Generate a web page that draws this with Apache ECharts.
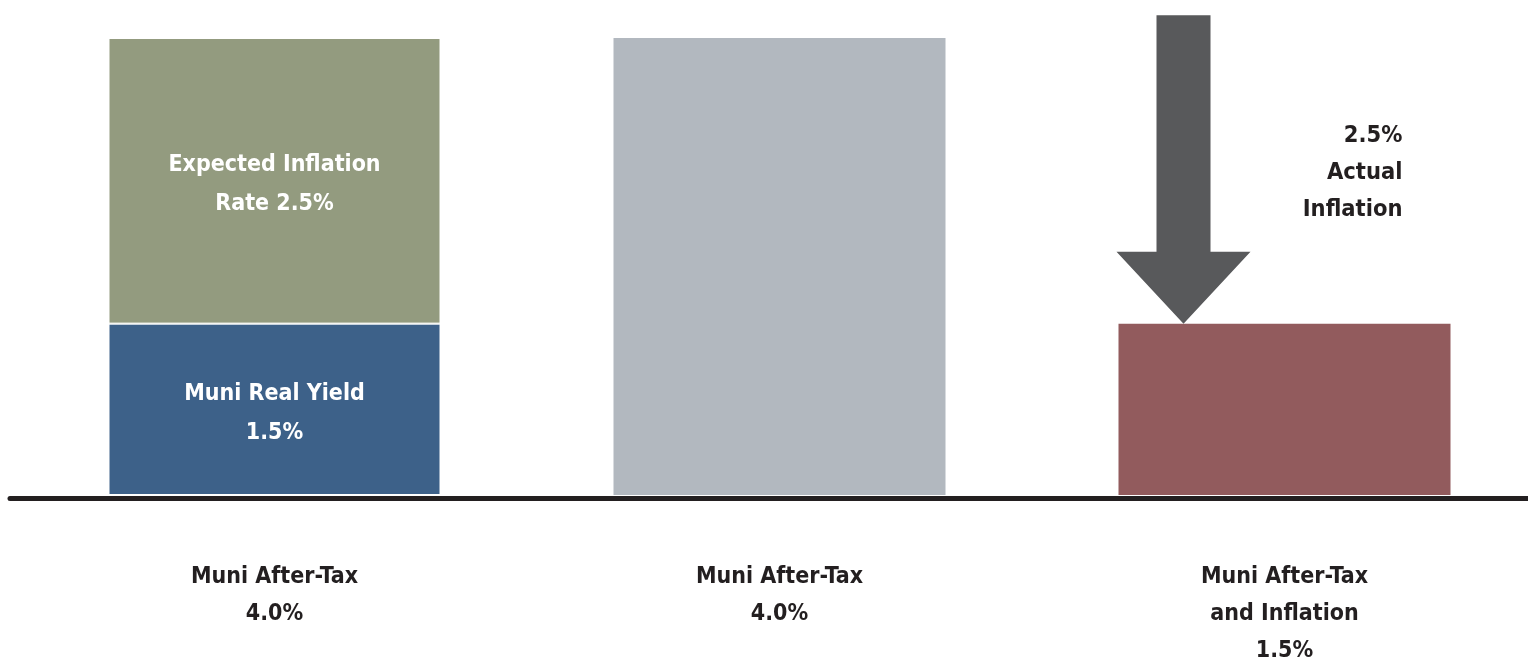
<!DOCTYPE html>
<html>
<head>
<meta charset="utf-8">
<script src="https://cdn.jsdelivr.net/npm/echarts@6/dist/echarts.min.js"></script>
<style>html,body{margin:0;padding:0;background:#fff}#c{width:1528px;height:664px}</style>
</head>
<body>
<div id="c"></div>
<script>
const categories = ['Muni After-Tax\n4.0%', 'Muni After-Tax\n4.0%', 'Muni After-Tax\nand Inflation\n1.5%'];
const realYield = [1.5, null, null];
const expectedInflation = [2.5, null, null];
const afterTax = [null, 4.0, null];
const afterTaxInflation = [null, null, 1.5];
// arrow: [category index, from value, to value]
const inflationArrow = [[2, 4.2, 1.5]];
const arrowLabel = '2.5%\nActual\nInflation';
const realYieldLabel = 'Muni Real Yield\n1.5%';
const expectedLabel = 'Expected Inflation\nRate 2.5%';

const FONT = "'DejaVu Sans Condensed', 'DejaVu Sans', sans-serif";
const chart = echarts.init(document.getElementById('c'));
const inLabel = (txt) => ({
  show: true, position: 'inside', formatter: txt, color: '#ffffff', offset: [0, 4],
  fontFamily: FONT, fontWeight: 'bold', fontSize: 23, lineHeight: 39
});
chart.setOption({
  animation: false,
  grid: [
    {left: 22, width: 1515, top: 38, bottom: 169, outerBoundsMode: 'none', containLabel: false},
    {left: 10, right: 0, top: 38, bottom: 165.5, outerBoundsMode: 'none', containLabel: false}
  ],
  xAxis: [
    {type: 'category', gridIndex: 0, data: categories,
     axisLine: {show: false}, axisTick: {show: false},
     axisLabel: {color: '#231f20', fontFamily: FONT, fontWeight: 'bold', fontSize: 23,
                 lineHeight: 37, margin: 64, verticalAlign: 'top'}},
    {type: 'value', gridIndex: 1, min: 0, max: 1,
     axisLine: {show: true, lineStyle: {color: '#231f20', width: 5}},
     axisTick: {show: false}, axisLabel: {show: false}, splitLine: {show: false}}
  ],
  yAxis: [
    {type: 'value', gridIndex: 0, min: 0, max: 4, show: false},
    {type: 'value', gridIndex: 1, min: 0, max: 1, show: false}
  ],
  series: [
    {type: 'bar', stack: 'a', data: realYield, barWidth: 332,
     itemStyle: {color: '#3d6189', borderColor: '#ffffff', borderWidth: 1},
     label: inLabel(realYieldLabel)},
    {type: 'bar', stack: 'a', data: expectedInflation, barWidth: 332,
     itemStyle: {color: '#939b7f', borderColor: '#ffffff', borderWidth: 1},
     label: inLabel(expectedLabel)},
    {type: 'bar', stack: 'a', data: afterTax, barWidth: 332,
     itemStyle: {color: '#b2b8bf'}},
    {type: 'bar', stack: 'a', data: afterTaxInflation, barWidth: 332,
     itemStyle: {color: '#925b5d'}},
    {type: 'custom', clip: false, data: inflationArrow, z: 5,
     renderItem: function (params, api) {
       const top = api.coord([api.value(0), api.value(1)]);
       const tip = api.coord([api.value(0), api.value(2)]);
       const cx = top[0] - 101, sw = 27, hw = 67, hl = 72;
       const hy = tip[1] - hl;
       return {
         type: 'group',
         children: [
           {type: 'polygon', shape: {points: [
             [cx - sw, top[1]], [cx + sw, top[1]], [cx + sw, hy], [cx + hw, hy],
             [cx, tip[1]], [cx - hw, hy], [cx - sw, hy]]},
            style: {fill: '#58595b'}},
           {type: 'text', x: cx + 219, y: top[1] + 158,
            style: {text: arrowLabel, fill: '#231f20', font: 'bold 23.5px ' + FONT,
                    lineHeight: 37, align: 'right', verticalAlign: 'middle'}}
         ]
       };
     }}
  ]
});
</script>
</body>
</html>
